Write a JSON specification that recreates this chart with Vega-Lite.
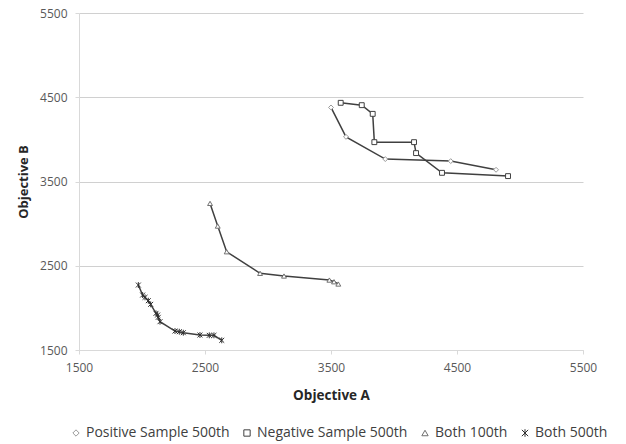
{
  "$schema": "https://vega.github.io/schema/vega-lite/v6.json",
  "width": 504,
  "height": 337,
  "autosize": {"type": "none"},
  "padding": {"left": 79, "top": 13, "right": 43, "bottom": 94},
  "background": "white",
  "config": {
    "view": {"stroke": null},
    "font": "Open Sans"
  },
  "data": {
    "values": [
      {"s": "Positive Sample 500th", "i": 1, "a": 3500, "b": 4379},
      {"s": "Positive Sample 500th", "i": 2, "a": 3619, "b": 4030},
      {"s": "Positive Sample 500th", "i": 3, "a": 3931, "b": 3766},
      {"s": "Positive Sample 500th", "i": 4, "a": 4450, "b": 3742},
      {"s": "Positive Sample 500th", "i": 5, "a": 4810, "b": 3639},
      {"s": "Negative Sample 500th", "i": 1, "a": 3577, "b": 4434},
      {"s": "Negative Sample 500th", "i": 2, "a": 3744, "b": 4406},
      {"s": "Negative Sample 500th", "i": 3, "a": 3831, "b": 4303},
      {"s": "Negative Sample 500th", "i": 4, "a": 3844, "b": 3967},
      {"s": "Negative Sample 500th", "i": 5, "a": 4159, "b": 3967},
      {"s": "Negative Sample 500th", "i": 6, "a": 4175, "b": 3837},
      {"s": "Negative Sample 500th", "i": 7, "a": 4381, "b": 3603},
      {"s": "Negative Sample 500th", "i": 8, "a": 4905, "b": 3564},
      {"s": "Both 100th", "i": 1, "a": 2540, "b": 3240},
      {"s": "Both 100th", "i": 2, "a": 2601, "b": 2971},
      {"s": "Both 100th", "i": 3, "a": 2672, "b": 2666},
      {"s": "Both 100th", "i": 4, "a": 2937, "b": 2410},
      {"s": "Both 100th", "i": 5, "a": 3127, "b": 2378},
      {"s": "Both 100th", "i": 6, "a": 3487, "b": 2330},
      {"s": "Both 100th", "i": 7, "a": 3524, "b": 2310},
      {"s": "Both 100th", "i": 8, "a": 3558, "b": 2283},
      {"s": "Both 500th", "i": 1, "a": 1971, "b": 2271},
      {"s": "Both 500th", "i": 2, "a": 2005, "b": 2152},
      {"s": "Both 500th", "i": 3, "a": 2024, "b": 2125},
      {"s": "Both 500th", "i": 4, "a": 2050, "b": 2085},
      {"s": "Both 500th", "i": 5, "a": 2069, "b": 2042},
      {"s": "Both 500th", "i": 6, "a": 2111, "b": 1935},
      {"s": "Both 500th", "i": 7, "a": 2124, "b": 1915},
      {"s": "Both 500th", "i": 8, "a": 2129, "b": 1888},
      {"s": "Both 500th", "i": 9, "a": 2143, "b": 1836},
      {"s": "Both 500th", "i": 10, "a": 2262, "b": 1725},
      {"s": "Both 500th", "i": 11, "a": 2296, "b": 1717},
      {"s": "Both 500th", "i": 12, "a": 2328, "b": 1705},
      {"s": "Both 500th", "i": 13, "a": 2460, "b": 1678},
      {"s": "Both 500th", "i": 14, "a": 2534, "b": 1674},
      {"s": "Both 500th", "i": 15, "a": 2571, "b": 1674},
      {"s": "Both 500th", "i": 16, "a": 2633, "b": 1615}
    ]
  },
  "encoding": {
    "x": {
      "field": "a", "type": "quantitative",
      "scale": {"domain": [1500, 5500], "nice": false, "zero": false},
      "axis": {
        "title": "Objective A",
        "values": [1500, 2500, 3500, 4500, 5500],
        "format": "d",
        "grid": false,
        "labelFlush": false,
        "domainColor": "#d9d9d9",
        "tickColor": "#d9d9d9",
        "tickSize": 4,
        "labelPadding": 8,
        "labelFontSize": 12,
        "labelColor": "#595959",
        "titleFontSize": 13.5,
        "titleFontWeight": "bold",
        "titleColor": "#262626",
        "titlePadding": 15
      }
    },
    "y": {
      "field": "b", "type": "quantitative",
      "scale": {"domain": [1500, 5500], "nice": false, "zero": false},
      "axis": {
        "title": "Objective B",
        "values": [1500, 2500, 3500, 4500, 5500],
        "format": "d",
        "grid": true,
        "labelFlush": false,
        "gridColor": "#d0d0d0",
        "domainColor": "#d9d9d9",
        "tickColor": "#d9d9d9",
        "tickSize": 4,
        "labelPadding": 8,
        "labelFontSize": 12,
        "labelColor": "#595959",
        "titleFontSize": 13,
        "titleFontWeight": "bold",
        "titleColor": "#262626",
        "titlePadding": 9
      }
    }
  },
  "layer": [
    {
      "mark": {"type": "line", "color": "#404040", "strokeWidth": 1.5},
      "encoding": {
        "detail": {"field": "s"},
        "order": {"field": "i", "type": "quantitative"}
      }
    },
    {
      "mark": {"type": "point", "filled": true, "fill": "white", "strokeWidth": 1, "size": 24, "opacity": 1},
      "encoding": {
        "shape": {
          "field": "s", "type": "nominal",
          "scale": {
            "domain": ["Positive Sample 500th", "Negative Sample 500th", "Both 100th", "Both 500th"],
            "range": ["diamond", "square", "triangle-up", "M-1,-1L1,1M-1,1L1,-1M0,-1.2L0,1.2"]
          },
          "legend": {
            "title": null,
            "orient": "none",
            "direction": "horizontal",
            "legendX": -10,
            "legendY": 413,
            "labelFontSize": 14,
            "labelColor": "#404040",
            "symbolSize": 40,
            "symbolStrokeWidth": 1,
            "symbolFillColor": "white",
            "columnPadding": 10,
            "labelOffset": 3
          }
        },
        "stroke": {
          "field": "s", "type": "nominal",
          "scale": {
            "domain": ["Positive Sample 500th", "Negative Sample 500th", "Both 100th", "Both 500th"],
            "range": ["#9a9a9a", "#404040", "#707070", "#303030"]
          },
          "legend": null
        }
      }
    }
  ]
}
